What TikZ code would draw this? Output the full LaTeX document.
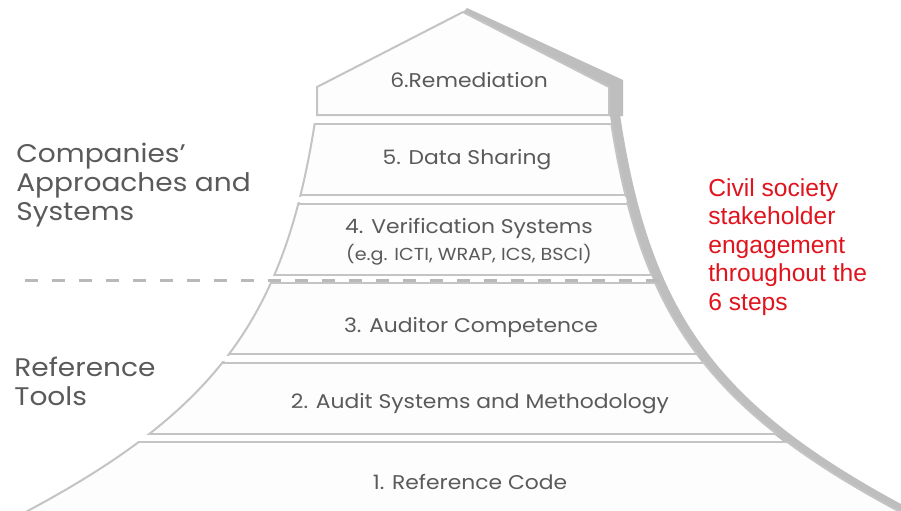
\documentclass[tikz,border=0pt]{standalone}
\usepackage{fontspec}
\setmainfont{Poppins}[FakeStretch=1.1]
\newfontfamily\notefont{Liberation Sans}
\usetikzlibrary{positioning}
\definecolor{edgegray}{RGB}{196,196,196}
\definecolor{bandgray}{RGB}{190,190,190}
\definecolor{tierwhite}{RGB}{253,253,253}
\definecolor{labelgray}{RGB}{90,90,90}
\definecolor{dashgray}{RGB}{185,185,185}
\definecolor{civilred}{RGB}{225,20,30}
\tikzset{
  tier/.style     ={fill=tierwhite, draw=edgegray, line width=0.4mm},
  tieredge/.style ={draw=edgegray, line width=0.4mm},
  band/.style     ={draw=bandgray, line width=2mm},
  tiertext/.style ={text=labelgray, font=\fontsize{11.3}{13}\selectfont, anchor=base, inner sep=0pt},
  sidelabel/.style={text=labelgray, font=\fontsize{14.5}{16.5}\selectfont, align=left,
                    anchor=north west, inner sep=0pt},
  civil/.style    ={text=civilred, font=\notefont\fontsize{14}{16.2}\selectfont, align=left,
                    anchor=north west, inner sep=0pt},
  divider/.style  ={draw=dashgray, line width=0.6mm, dash pattern=on 2.6mm off 2.8mm}
}
% outline of the hill: left flank, mirrored for the right one
\def\hill{(316,115) .. controls (286,315) and (219.5,410) .. (20,515) -- (906,515)
  .. controls (706.5,410) and (640,315) .. (610,115) -- cycle}

\begin{document}
\begin{tikzpicture}[x=0.2mm, y=-0.2mm]
  \fill[white] (0,0) rectangle (901,510);
  \clip (0,0) rectangle (901,510);

  % grey rim on the right
  \draw[band, xshift=1mm] (610,115) .. controls (640,315) and (706.5,410) .. (906,515);
  \fill[bandgray] (463,12) -- (467,8) -- (623,80) -- (623,116) -- (609,116) -- (609,87) -- cycle;

  % roof tier
  \filldraw[tier] (317,115) -- (317,87) -- (463,12) -- (609,87) -- (609,115) -- cycle;

  % tiers 5 down to 1
  \foreach \a/\b in {124/195, 203.5/274.5, 283/354, 362.5/433.5, 442/530} {
    \begin{scope}
      \clip \hill;
      \filldraw[tier] (0,\a) rectangle (901,\b);
    \end{scope}
    \begin{scope}
      \clip (0,\a-1) rectangle (901,\b+1);
      \draw[tieredge] \hill;
    \end{scope}
  }

  \draw[divider] (25,280) -- (660,280);

  \node[tiertext] (remed) at (469,87) {6.Remediation};
  \node[tiertext] (share) at (467,164) {5. Data Sharing};
  \node[tiertext] (verif) at (469,233) {4. Verification Systems};
  \node[tiertext, font=\fontsize{9.9}{11}\selectfont] (schemes) at (469,260) {(e.g. ICTI, WRAP, ICS, BSCI)};
  \node[tiertext] (comp) at (471,332) {3. Auditor Competence};
  \node[tiertext] (method) at (480,408) {2. Audit Systems and Methodology};
  \node[tiertext] (code) at (470,489) {1. Reference Code};

  \node[sidelabel] (firms) at (16,143) {Companies'\\Approaches and\\Systems};
  \node[sidelabel] (tools) at (14,357) {Reference\\Tools};
  \node[civil] (civil) at (708,178) {Civil society\\stakeholder\\engagement\\throughout the\\6 steps};
\end{tikzpicture}
\end{document}
